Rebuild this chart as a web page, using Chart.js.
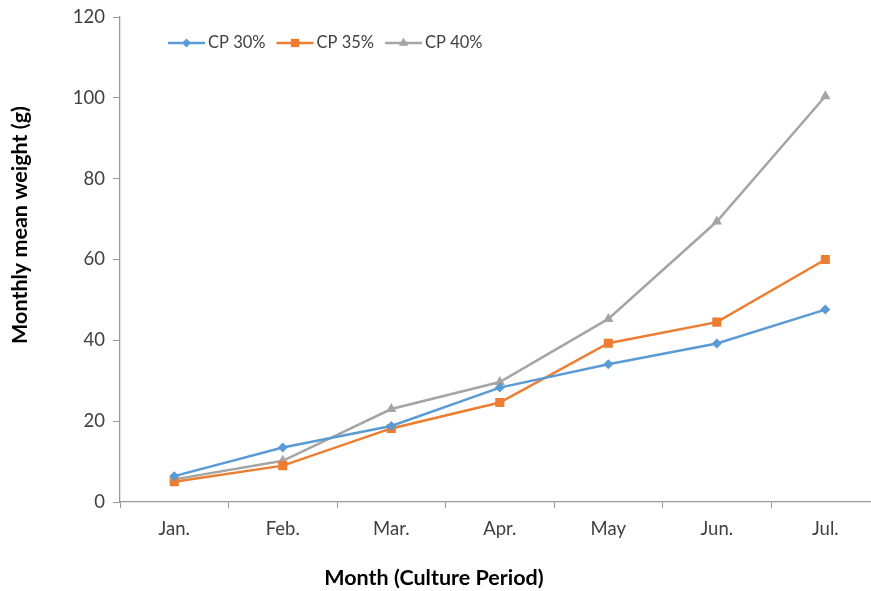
<!DOCTYPE html>
<html>
<head>
<meta charset="utf-8">
<script src="https://cdn.jsdelivr.net/npm/chart.js@4"></script>
<style>
  html, body { margin: 0; padding: 0; background: #fff; overflow: hidden; }
  #wrap { width: 871px; height: 591px; overflow: hidden; }
</style>
</head>
<body>
<div id="wrap"><canvas id="myChart" width="886" height="591"></canvas></div>
<script>
// datos
var meses = ['Jan.', 'Feb.', 'Mar.', 'Apr.', 'May', 'Jun.', 'Jul.'];
var cp30 = [6.4, 13.5, 18.8, 28.3, 34.1, 39.2, 47.6];
var cp35 = [5.0, 9.0, 18.2, 24.6, 39.3, 44.5, 60.0];
var cp40 = [5.6, 10.2, 23.0, 29.7, 45.3, 69.4, 100.4];
var yTicks = [0, 20, 40, 60, 80, 100, 120];

var fuente = 'Lato, "Open Sans", sans-serif';

// leyenda dentro del area del grafico + titulos de ejes
var extras = {
  id: 'extras',
  afterDraw: function (chart) {
    var ctx = chart.ctx;
    ctx.save();
    ctx.font = '16.5px ' + fuente;
    ctx.textBaseline = 'middle';
    var x = 168, y = 43;
    chart.data.datasets.forEach(function (ds) {
      ctx.strokeStyle = ds.borderColor;
      ctx.lineWidth = 2.5;
      ctx.beginPath();
      ctx.moveTo(x, y);
      ctx.lineTo(x + 37, y);
      ctx.stroke();
      ctx.fillStyle = ds.backgroundColor;
      Chart.helpers.drawPoint(ctx, {
        pointStyle: ds.pointStyle, radius: ds.pointRadius - 0.5, rotation: 0, borderWidth: 0
      }, x + 18.5, y);
      ctx.fillStyle = '#404040';
      ctx.fillText(ds.label, x + 40, y);
      x += 40 + ctx.measureText(ds.label).width + 11;
    });

    ctx.fillStyle = '#000';
    ctx.font = 'bold 21.5px ' + fuente;
    ctx.textAlign = 'center';
    ctx.fillText('Month (Culture Period)', 434, 578);
    ctx.translate(20, 225);
    ctx.rotate(-Math.PI / 2);
    ctx.fillText('Monthly mean weight (g)', 0, 0);
    ctx.restore();
  }
};

var ctx = document.getElementById('myChart').getContext('2d');
var myChart = new Chart(ctx, {
  type: 'line',
  data: {
    labels: meses,
    datasets: [{
      label: 'CP 30%',
      data: cp30,
      borderColor: '#5B9BD5',
      backgroundColor: '#5B9BD5',
      pointStyle: 'rectRot',
      pointRadius: 5
    }, {
      label: 'CP 35%',
      data: cp35,
      borderColor: '#ED7D31',
      backgroundColor: '#ED7D31',
      pointStyle: 'rect',
      pointRadius: 6.4
    }, {
      label: 'CP 40%',
      data: cp40,
      borderColor: '#A5A5A5',
      backgroundColor: '#A5A5A5',
      pointStyle: 'triangle',
      pointRadius: 6
    }]
  },
  options: {
    responsive: false,
    animation: false,
    elements: {
      line: { borderWidth: 2.5, tension: 0 },
      point: { borderWidth: 0, hoverRadius: 5 }
    },
    layout: { padding: { top: 17, right: 1, left: 0, bottom: 0 } },
    plugins: {
      legend: { display: false },
      tooltip: { enabled: false }
    },
    scales: {
      x: {
        offset: true,
        afterFit: function (s) { s.height = 89; },
        grid: { offset: true, drawOnChartArea: false, drawTicks: true, tickLength: 6, color: '#999' },
        border: { display: true, color: '#999', width: 1.3 },
        ticks: { color: '#404040', font: { family: fuente, size: 18.5 }, padding: 10 }
      },
      y: {
        min: 0,
        max: 120,
        afterFit: function (s) { s.width = 120; s.paddingTop = 0; s.paddingBottom = 0; },
        afterBuildTicks: function (s) { s.ticks = yTicks.map(function (v) { return { value: v }; }); },
        grid: { drawOnChartArea: false, drawTicks: true, tickLength: 7, color: '#999' },
        border: { display: true, color: '#999', width: 1.3 },
        ticks: { color: '#404040', font: { family: fuente, size: 18.5 }, padding: 8 }
      }
    }
  },
  plugins: [extras]
});
</script>
</body>
</html>
